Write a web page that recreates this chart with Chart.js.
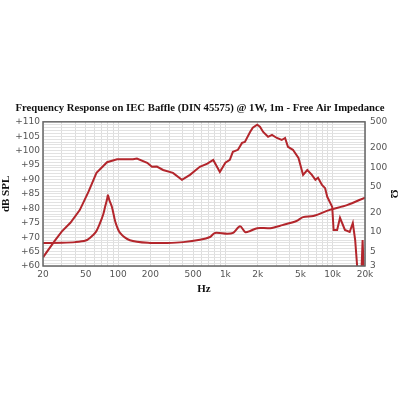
<!DOCTYPE html>
<html lang="en">
<head>
    <meta charset="UTF-8">
    <title>Frequency Response</title>
    <style>
        html, body { margin: 0; padding: 0; background: #fff; }
        canvas { display: block; }
    </style>
</head>
<body>
    <canvas id="fr" width="400" height="400"></canvas>

    <script src="https://cdn.jsdelivr.net/npm/chart.js"></script>
    <script>
        // SPL curve
        const splFreq = [20, 26, 30, 36, 44, 53, 63, 79, 98, 138, 150, 187, 207, 230, 263, 325, 394, 468, 578, 680, 771, 889, 1000, 1100, 1175, 1310, 1430, 1520, 1700, 1800, 1980, 2100, 2250, 2500, 2720, 3020, 3350, 3600, 3830, 4260, 4800, 5300, 5800, 6400, 6900, 7300, 7950, 8500, 8900, 9900, 10200, 11000, 11700, 13000, 14400, 15400, 16200, 17300, 18400, 19000, 19600, 20000];
        const splDb = [63, 69, 72, 75, 79.4, 85.7, 92.3, 96, 97, 97, 97.3, 95.8, 94.4, 94.5, 93.3, 92.3, 89.9, 91.6, 94.4, 95.5, 96.8, 92.6, 95.8, 96.8, 99.6, 100.3, 102.7, 103, 106.5, 108, 109, 108.3, 106.5, 104.8, 105.5, 104.4, 103.7, 104.4, 101.3, 100.3, 97.5, 91.6, 93.3, 91.6, 89.9, 90.6, 88.1, 87, 84, 80.5, 72.5, 72.5, 76.7, 72.5, 71.8, 74.9, 69, 55, 55, 69, 55, 55];

        // impedance curve
        const impFreq = [20, 30, 40, 50, 55, 62, 68, 73, 76, 79, 80.6, 83, 88, 94.5, 104.5, 129, 199, 286, 404, 580, 720, 800, 1040, 1180, 1370, 1530, 1700, 1980, 2620, 3400, 4600, 5300, 6600, 9400, 13600, 20000];
        const impOhm = [6.8, 6.85, 7.0, 7.4, 8.2, 10, 13.8, 19, 25, 32, 37, 31, 24, 14.3, 9.7, 7.5, 6.8, 6.8, 7.0, 7.6, 8.4, 9.7, 9.4, 9.7, 12.3, 10, 10.4, 11.5, 11.5, 12.8, 14.8, 17, 17.7, 22, 26, 34];

        const freqGrid = [20, 30, 40, 50, 60, 70, 80, 90, 100, 200, 300, 400, 500, 600, 700, 800, 900, 1000, 2000, 3000, 4000, 5000, 6000, 7000, 8000, 9000, 10000, 20000];
        const freqLabels = {20: '20', 50: '50', 100: '100', 200: '200', 500: '500', 1000: '1k', 2000: '2k', 5000: '5k', 10000: '10k', 20000: '20k'};
        const ohmTicks = [3, 5, 10, 20, 50, 100, 200, 500];

        const red = '#b3262c';
        const tickFont = { family: 'DejaVu Sans', size: 9 };
        const titleFont = { family: 'Liberation Serif', size: 11, weight: 'bold' };
        const mainTitleFont = { family: 'Liberation Serif', size: 10.7, weight: 'bold' };

        const frame = {
            id: 'frame',
            afterDraw(chart) {
                const a = chart.chartArea;
                const ctx = chart.ctx;
                ctx.save();
                ctx.strokeStyle = '#666';
                ctx.lineWidth = 1.5;
                ctx.strokeRect(a.left, a.top, a.right - a.left, a.bottom - a.top);
                ctx.restore();
            }
        };

        new Chart(document.getElementById('fr'), {
            type: 'line',
            data: {
                datasets: [
                    {
                        data: splFreq.map((f, i) => ({ x: f, y: splDb[i] })),
                        yAxisID: 'y',
                        borderColor: red,
                        borderWidth: 2,
                        pointRadius: 0,
                        tension: 0
                    },
                    {
                        data: impFreq.map((f, i) => ({ x: f, y: impOhm[i] })),
                        yAxisID: 'y2',
                        borderColor: red,
                        borderWidth: 2,
                        pointRadius: 0,
                        tension: 0.3
                    }
                ]
            },
            options: {
                responsive: false,
                animation: false,
                events: [],
                layout: { padding: { left: 0, right: 0, top: 0, bottom: 100 } },
                plugins: {
                    legend: { display: false },
                    tooltip: { enabled: false },
                    title: {
                        display: true,
                        text: 'Frequency Response on IEC Baffle (DIN 45575) @ 1W, 1m - Free Air Impedance',
                        color: '#111',
                        font: mainTitleFont,
                        padding: { top: 102, bottom: 7 }
                    }
                },
                scales: {
                    x: {
                        type: 'logarithmic',
                        min: 20,
                        max: 20000,
                        afterBuildTicks: s => { s.ticks = freqGrid.map(v => ({ value: v })); },
                        afterFit: s => { s.height = 34; },
                        ticks: {
                            autoSkip: false,
                            maxRotation: 0,
                            color: '#555',
                            font: tickFont,
                            callback: v => freqLabels[v] || ''
                        },
                        grid: { color: '#ddd', drawTicks: false },
                        border: { display: false },
                        title: { display: true, text: 'Hz', color: '#111', font: titleFont, padding: { top: 4 } }
                    },
                    y: {
                        position: 'left',
                        min: 60,
                        max: 110,
                        afterFit: s => { s.width = 43; },
                        ticks: {
                            stepSize: 1,
                            autoSkip: false,
                            color: '#555',
                            font: tickFont,
                            padding: 3,
                            callback: v => (v % 5 === 0 ? '+' + v : '')
                        },
                        grid: { color: '#e2e2e2', drawTicks: false },
                        border: { display: false },
                        title: { display: true, text: 'dB SPL', color: '#111', font: titleFont, padding: 0 }
                    },
                    y2: {
                        type: 'logarithmic',
                        position: 'right',
                        min: 3,
                        max: 500,
                        afterBuildTicks: s => { s.ticks = ohmTicks.map(v => ({ value: v })); },
                        afterFit: s => { s.width = 35; },
                        ticks: {
                            autoSkip: false,
                            color: '#555',
                            font: tickFont,
                            padding: 5,
                            callback: v => String(v)
                        },
                        grid: { display: false, drawTicks: false },
                        border: { display: false },
                        title: { display: true, text: 'Ω', color: '#111', font: titleFont, padding: 0 }
                    }
                }
            },
            plugins: [frame]
        });
    </script>
</body>
</html>
